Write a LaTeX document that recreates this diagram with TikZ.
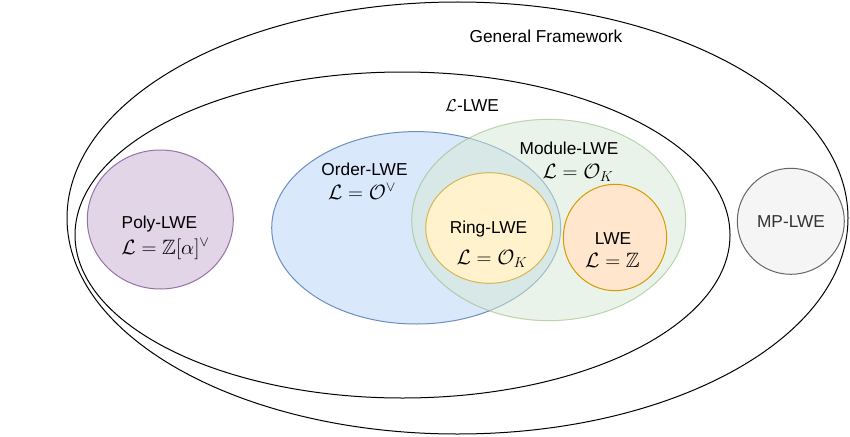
\documentclass[tikz,border=0pt]{standalone}
\usepackage{amsmath, amssymb}
\usepackage{fontspec}
\setmainfont{Liberation Sans}
\definecolor{polyfill}{HTML}{E1D5E7}
\definecolor{polyline}{HTML}{9673A6}
\definecolor{orderfill}{HTML}{DAE8FC}
\definecolor{orderline}{HTML}{6C8EBF}
\definecolor{modfill}{HTML}{D5E8D4}
\definecolor{modline}{HTML}{82B366}
\definecolor{ringfill}{HTML}{FFF2CC}
\definecolor{ringline}{HTML}{D6B656}
\definecolor{lwefill}{HTML}{FFE6CC}
\definecolor{lweline}{HTML}{D79B00}
\definecolor{mpfill}{HTML}{F5F5F5}
\definecolor{mpline}{HTML}{666666}
\definecolor{mptext}{HTML}{333333}

\begin{document}
\begin{tikzpicture}[x=1pt, y=-1pt, line width=1pt,
        lbl/.style={font=\fontsize{17.28}{20}\selectfont, anchor=base, inner sep=0pt},
        eq/.style={font=\fontsize{20.74}{24}\selectfont, anchor=base, inner sep=0pt}]
            \useasboundingbox (0,0) rectangle (850,436);
            \draw (457.5,218) ellipse [x radius=390.5, y radius=216];
            \draw [fill=white] (402.5,235) ellipse [x radius=327.5, y radius=163];
            \draw [fill=polyfill, draw=polyline] (160.3,219.5) ellipse [x radius=73, y radius=69.5];
            \draw [fill=orderfill, draw=orderline] (416.2,227.8) ellipse [x radius=144.5, y radius=96.2];
            \draw [fill=modfill, draw=modline, opacity=0.5] (548.7,220) ellipse [x radius=137, y radius=100.7];
            \draw [fill=ringfill, draw=ringline] (489.2,228) ellipse [x radius=63.5, y radius=55.3];
            \draw [fill=lwefill, draw=lweline] (615,237.5) ellipse [x radius=51.7, y radius=53.2];
            \draw [fill=mpfill, draw=mpline] (790.8,221.3) ellipse [x radius=53.5, y radius=53];
            \node [lbl] (general) at (546,42.7) {General Framework};
            \node [lbl] (llwe) at (472,111.5) {$\mathcal{L}$-LWE};
            \node [lbl] (poly) at (159.5,228.3) {Poly-LWE};
            \node [eq] (poly-eq) at (165.5,254) {$\mathcal{L} = \mathbb{Z}[\alpha]^{\vee}$};
            \node [lbl] (order) at (364.5,175) {Order-LWE};
            \node [eq] (order-eq) at (362,199.5) {$\mathcal{L} = \mathcal{O}^{\vee}$};
            \node [lbl] (module) at (569,154.5) {Module-LWE};
            \node [eq] (module-eq) at (578,178.5) {$\mathcal{L} = \mathcal{O}_K$};
            \node [lbl] (ring) at (488.5,233.5) {Ring-LWE};
            \node [eq] (ring-eq) at (492,264) {$\mathcal{L} = \mathcal{O}_K$};
            \node [lbl] (lwe) at (613,244) {LWE};
            \node [eq] (lwe-eq) at (612.5,267.5) {$\mathcal{L} = \mathbb{Z}$};
            \node [lbl, text=mptext] (mp) at (791,227.5) {MP-LWE};
        \end{tikzpicture}
\end{document}
